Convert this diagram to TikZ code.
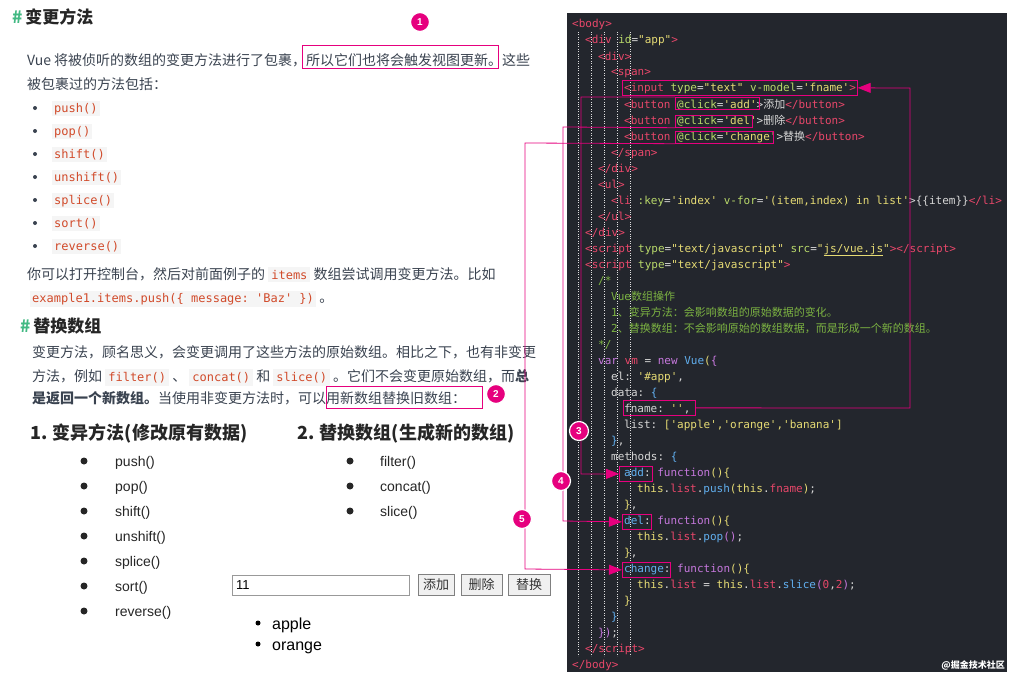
\documentclass[tikz,border=0pt]{standalone}
\usetikzlibrary{arrows.meta}
\usepackage{fontspec}
\setmainfont{Noto Sans CJK SC}
\setmonofont{DejaVu Sans Mono}
\newfontfamily\cjk{Noto Sans CJK SC}
\newfontfamily\lat{Liberation Sans}
\definecolor{pk}{HTML}{E6007E}
\definecolor{panel}{HTML}{23262D}
\definecolor{tg}{HTML}{E8476A}
\definecolor{at}{HTML}{B8D86A}
\definecolor{st}{HTML}{E6DB74}
\definecolor{pl}{HTML}{D6D6D6}
\definecolor{cm}{HTML}{7CB342}
\definecolor{kw}{HTML}{C678DD}
\definecolor{fnc}{HTML}{61AFEF}
\definecolor{codec}{HTML}{D14A2A}
\definecolor{txt}{HTML}{3A4350}
\definecolor{vg}{HTML}{42B983}
\newcommand{\tg}[1]{\textcolor{tg}{#1}}
\newcommand{\at}[1]{\textcolor{at}{#1}}
\newcommand{\st}[1]{\textcolor{st}{#1}}
\newcommand{\cm}[1]{\textcolor{cm}{#1}}
\newcommand{\kw}[1]{\textcolor{kw}{#1}}
\newcommand{\fnc}[1]{\textcolor{fnc}{#1}}
\newcommand{\cj}[1]{{\cjk #1}}
\newcommand{\cd}[1]{{\ttfamily\color{codec}\fontsize{12}{12}\selectfont #1}}
\begin{document}
\begin{tikzpicture}[x=1pt,y=-1pt,
  code/.style={anchor=base west,inner sep=0,font=\ttfamily\fontsize{11}{11}\selectfont,text=pl},
  body/.style={anchor=base west,inner sep=0,font=\fontsize{14}{14}\selectfont,text=txt},
  hbox/.style={draw=pk,line width=0.7pt,inner sep=0,anchor=north west},
  badge/.style={circle,fill=pk,draw=white,line width=1.2pt,inner sep=0,minimum size=19pt,text=white,font=\lat\bfseries\fontsize{10}{10}\selectfont},
  conn/.style={draw=pk,line width=0.8pt},
  arr/.style={conn,-{Triangle[length=13pt,width=10pt]}},
  blt/.style={circle,fill=#1,inner sep=0,minimum size=4pt},
  btn/.style={draw=gray,fill=gray!12,anchor=north west,inner sep=0,font=\fontsize{13}{13}\selectfont,text=black!80}
]
\path[use as bounding box] (0,0) rectangle (1020,685);
\fill[white] (0,0) rectangle (1020,685);
% ===== left: top section
\node[anchor=base west,inner sep=0,font=\bfseries\fontsize{17}{17}\selectfont] (h1) at (12,24) {\textcolor{vg}{\#}\,\textcolor{black!85}{变更方法}};
\node[body] (p1) at (27,66) {Vue 将被侦听的数组的变更方法进行了包裹，所以它们也将会触发视图更新。这些};
\node[body] (p2) at (27,89) {被包裹过的方法包括：};
\foreach \t [count=\i] in {push(),pop(),shift(),unshift(),splice(),sort(),reverse()}{
  \node[blt=txt] (tb\i) at (35,{85+23*\i}) {};
  \node[anchor=base west,inner sep=2pt,fill=gray!8] (tc\i) at (52,{89+23*\i}) {\cd{\t}};
}
\node[body] (p3) at (27,279) {你可以打开控制台，然后对前面例子的 \colorbox{gray!8}{\cd{items}} 数组尝试调用变更方法。比如};
\node[anchor=base west,inner sep=2pt,fill=gray!8] (p4) at (30,302) {\cd{example1.items.push(\{ message: 'Baz' \})}};
\node[body] (p4b) at (p4.base east) {\ 。};
\node[hbox,minimum width=196pt,minimum height=23pt] (box1) at (302,45) {};
\node[badge] (b1) at (420,22) {1};
% ===== second section
\node[anchor=base west,inner sep=0,font=\bfseries\fontsize{17}{17}\selectfont] (h2) at (20,332) {\textcolor{vg}{\#}\,\textcolor{black!85}{替换数组}};
\node[body] (q1) at (32,357) {变更方法，顾名思义，会变更调用了这些方法的原始数组。相比之下，也有非变更};
\node[body] (q2) at (32,381) {方法，例如 \colorbox{gray!8}{\cd{filter()}} 、 \colorbox{gray!8}{\cd{concat()}} 和 \colorbox{gray!8}{\cd{slice()}} 。它们不会变更原始数组，而\textbf{总}};
\node[body] (q3) at (32,403) {\textbf{是返回一个新数组。}当使用非变更方法时，可以用新数组替换旧数组：};
\node[hbox,minimum width=156pt,minimum height=22pt] (box2) at (326,386) {};
\node[badge] (b2) at (496,394) {2};
% ===== rendered page
\node[anchor=base west,inner sep=0,font=\bfseries\fontsize{18}{18}\selectfont,text=black!85] (g1) at (30,439) {1. 变异方法(修改原有数据)};
\node[anchor=base west,inner sep=0,font=\bfseries\fontsize{18}{18}\selectfont,text=black!85] (g2) at (297,439) {2. 替换数组(生成新的数组)};
\foreach \t [count=\i] in {push(),pop(),shift(),unshift(),splice(),sort(),reverse()}{
  \node[blt=black!85,minimum size=7pt] (lb\i) at (84,{436+25*\i}) {};
  \node[anchor=base west,inner sep=0,font=\lat\fontsize{14}{14}\selectfont,text=black!85] (lt\i) at (115,{441+25*\i}) {\t};
}
\foreach \t [count=\i] in {filter(),concat(),slice()}{
  \node[blt=black!85,minimum size=7pt] (rb\i) at (350,{436+25*\i}) {};
  \node[anchor=base west,inner sep=0,font=\lat\fontsize{14}{14}\selectfont,text=black!85] (rt\i) at (380,{441+25*\i}) {\t};
}
\node[draw=gray!80,anchor=north west,minimum width=177pt,minimum height=20pt,inner sep=0] (inp) at (232,575) {};
\node[anchor=west,inner sep=0,font=\lat\fontsize{13}{13}\selectfont] (inpt) at (236,585) {11};
\node[btn,minimum width=36pt,minimum height=21pt] (bt1) at (418,574) {添加};
\node[btn,minimum width=41pt,minimum height=21pt] (bt2) at (461,574) {删除};
\node[btn,minimum width=42pt,minimum height=21pt] (bt3) at (508,574) {替换};
\node[blt=black,minimum size=5pt] (ab1) at (258,623) {};
\node[blt=black,minimum size=5pt] (ab2) at (258,644) {};
\node[anchor=base west,inner sep=0,font=\lat\fontsize{16}{16}\selectfont] (at1) at (272,629) {apple};
\node[anchor=base west,inner sep=0,font=\lat\fontsize{16}{16}\selectfont] (at2) at (272,650) {orange};
% ===== code panel
\fill[panel] (567,13) rectangle (1007,672);
\foreach \xx in {578,591,604,617,630}{\draw[gray!25,dotted] (\xx,32) -- (\xx,656);}
\newcommand{\cl}[3]{\node[code] (c#1) at (#2,{28+16*#1}) {#3};}
\cl{0}{572}{\tg{<body>}}
\cl{1}{585}{\tg{<div} \at{id}=\st{"app"}\tg{>}}
\cl{2}{598}{\tg{<div>}}
\cl{3}{611}{\tg{<span>}}
\cl{4}{624}{\tg{<input} \at{type}=\st{"text"} \at{v-model}=\st{'fname'}\tg{>}}
\cl{5}{624}{\tg{<button} \at{@click}=\st{'add'}>\cj{添加}\tg{</button>}}
\cl{6}{624}{\tg{<button} \at{@click}=\st{'del'}>\cj{删除}\tg{</button>}}
\cl{7}{624}{\tg{<button} \at{@click}=\st{'change'}>\cj{替换}\tg{</button>}}
\cl{8}{611}{\tg{</span>}}
\cl{9}{598}{\tg{</div>}}
\cl{10}{598}{\tg{<ul>}}
\cl{11}{611}{\tg{<li} \at{:key}=\st{'index'} \at{v-for}=\st{'(item,index) in list'}>\{\{item\}\}\tg{</li>}}
\cl{12}{598}{\tg{</ul>}}
\cl{13}{585}{\tg{</div>}}
\cl{14}{585}{\tg{<script} \at{type}=\st{"text/javascript"} \at{src}=\st{"\underline{js/vue.js}"}\tg{></script>}}
\cl{15}{585}{\tg{<script} \at{type}=\st{"text/javascript"}\tg{>}}
\cl{16}{598}{\cm{/*}}
\cl{17}{611}{\cm{Vue\cj{数组操作}}}
\cl{18}{611}{\cm{1\cj{、变异方法：会影响数组的原始数据的变化。}}}
\cl{19}{611}{\cm{2\cj{、替换数组：不会影响原始的数组数据，而是形成一个新的数组。}}}
\cl{20}{598}{\cm{*/}}
\cl{21}{598}{\kw{var} \tg{vm} = \kw{new} \fnc{Vue}\st{(}\kw{\{}}
\cl{22}{611}{el: \st{'\#app'},}
\cl{23}{611}{data: \fnc{\{}}
\cl{24}{624}{fname: \st{''},}
\cl{25}{624}{list: \st{['apple','orange','banana']}}
\cl{26}{611}{\fnc{\}},}
\cl{27}{611}{methods: \fnc{\{}}
\cl{28}{624}{\fnc{add}: \kw{function}\st{()\{}}
\cl{29}{637}{\st{this}.\tg{list}.\fnc{push}\st{(this}.\tg{fname}\st{)};}
\cl{30}{624}{\st{\}},}
\cl{31}{624}{\fnc{del}: \kw{function}\st{()\{}}
\cl{32}{637}{\st{this}.\tg{list}.\fnc{pop}\kw{()};}
\cl{33}{624}{\st{\}},}
\cl{34}{624}{\fnc{change}: \kw{function}\st{()\{}}
\cl{35}{637}{\st{this}.\tg{list} = \st{this}.\tg{list}.\fnc{slice}\kw{(}\tg{0},\tg{2}\kw{)};}
\cl{36}{624}{\st{\}}}
\cl{37}{611}{\fnc{\}}}
\cl{38}{598}{\kw{\})};}
\cl{39}{585}{\tg{</script>}}
\cl{40}{572}{\tg{</body>}}
\node[anchor=south east,inner sep=2pt,font=\bfseries\fontsize{9}{9}\selectfont,text=white] (wm) at (1007,672) {@掘金技术社区};
% code boxes
\node[hbox,minimum width=235pt,minimum height=15pt] (bin) at (622,80) {};
\node[hbox,minimum width=84pt,minimum height=12pt] (badd) at (675,97) {};
\node[hbox,minimum width=77pt,minimum height=12pt] (bdel) at (675,115) {};
\node[hbox,minimum width=98pt,minimum height=12pt] (bchg) at (675,131) {};
\node[hbox,minimum width=72pt,minimum height=15pt] (bfn) at (623,400) {};
\node[hbox,minimum width=33pt,minimum height=15pt] (madd) at (619,466) {};
\node[hbox,minimum width=29pt,minimum height=15pt] (mdel) at (622,514) {};
\node[hbox,minimum width=48pt,minimum height=15pt] (mchg) at (622,562) {};
% connectors
\draw[arr] (bfn.east) -- (910,408) -- (910,88) -- (bin.east);
\draw[arr] (badd.north west) -- (581,97) -- (581,474) -- (madd.west);
\draw[arr] (bdel.south west) -- (563,127) -- (563,521) -- (mdel.west);
\draw[arr] (bchg.south west) -- (525,143) -- (525,569) -- (mchg.west);
\node[badge] (b3) at (579,431) {3};
\node[badge] (b4) at (561,481) {4};
\node[badge] (b5) at (522,519) {5};
\end{tikzpicture}
\end{document}
